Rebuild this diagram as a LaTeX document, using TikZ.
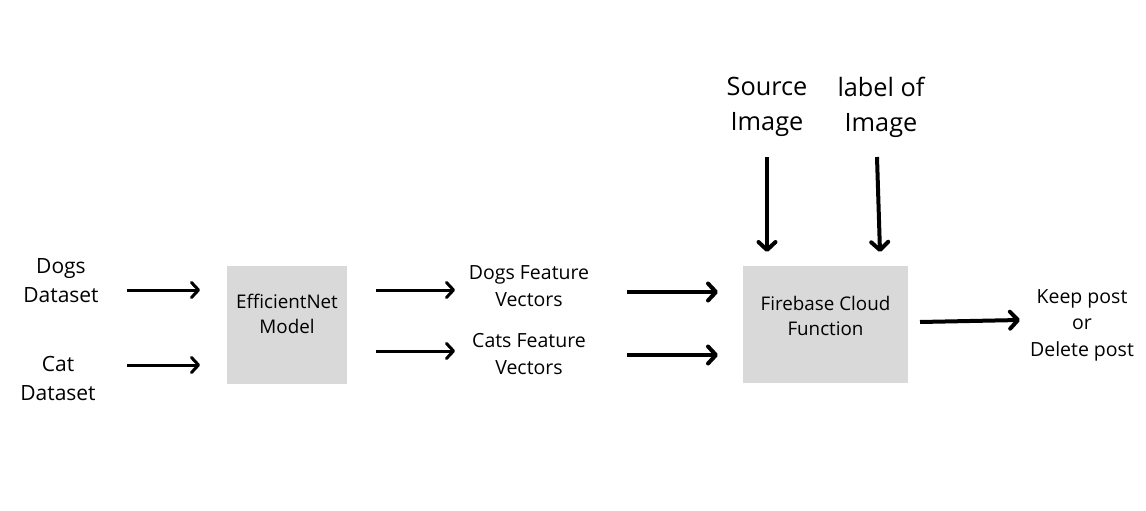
\documentclass[tikz,border=0pt]{standalone}
\usepackage{fontspec}
\setmainfont{Open Sans}
\usetikzlibrary{arrows.meta}
\definecolor{BoxGray}{HTML}{d9d9d9}

\tikzset{
  txt/.style={align=center,inner sep=0pt,font=\fontsize{19.5}{26.5}\selectfont},
  datatxt/.style={align=center,inner sep=0pt,font=\fontsize{21}{29}\selectfont},
  bigtxt/.style={align=center,inner sep=0pt,font=\fontsize{25.3}{35}\selectfont},
  box/.style={fill=BoxGray,draw=none,inner sep=0pt},
  boxtxt/.style={align=center,inner sep=0pt,font=\fontsize{18.8}{25}\selectfont},
  arr/.style={line width=3pt,-{Straight Barb[length=7pt,width=15pt,round]}},
  fatarr/.style={line width=4pt,-{Straight Barb[length=8pt,width=17pt,round]}}
}

\begin{document}
\begin{tikzpicture}[x=1pt,y=-1pt]
    \useasboundingbox[fill=white] (0,0) rectangle (1146,511);

    % inputs and model
    \node[datatxt] (dogs) at (61,281) {Dogs\\Dataset};
    \node[datatxt] (cat) at (58,378) {Cat\\Dataset};
    \node[box,minimum width=120pt,minimum height=118pt,
      label={[boxtxt,yshift=11pt]center:EfficientNet\\Model}] (effnet) at (287,325) {};

    % feature vectors
    \node[txt] (dogsvec) at (529,286) {Dogs Feature\\Vectors};
    \node[txt] (catsvec) at (529,354) {Cats Feature\\Vectors};

    % cloud function
    \node[bigtxt] (source) at (767,107) {Source\\Image};
    \node[bigtxt] (labelimg) at (881,107) {label of\\Image};
    \node[box,minimum width=165pt,minimum height=117pt,
      label={[boxtxt,yshift=8.5pt]center:Firebase Cloud\\Function}] (fire) at (825.5,324.5) {};
    \node[txt] (decision) at (1082,325) {Keep post\\or\\Delete post};

    \draw[arr] ([shift={(66,9)}]dogs.center) -- ([shift={(-87,-35)}]effnet.center);
    \draw[arr] ([shift={(69,-13)}]cat.center) -- ([shift={(-87,40)}]effnet.center);
    \draw[arr] ([shift={(89,-35)}]effnet.center) -- ([shift={(-74,4)}]dogsvec.center);
    \draw[arr] ([shift={(89,26)}]effnet.center) -- ([shift={(-74,-3)}]catsvec.center);
    \draw[fatarr] ([shift={(98,6)}]dogsvec.center) -- ([shift={(-107.5,-32.5)}]fire.center);
    \draw[fatarr] ([shift={(98,1)}]catsvec.center) -- ([shift={(-107.5,30.5)}]fire.center);
    \draw[fatarr] ([shift={(0,50)}]source.center) -- ([shift={(-58.5,-72.5)}]fire.center);
    \draw[fatarr] ([shift={(-4,50)}]labelimg.center) -- ([shift={(54.5,-72.5)}]fire.center);
    \draw[fatarr] ([shift={(94.5,-2.5)}]fire.center) -- ([shift={(-62,-5)}]decision.center);
\end{tikzpicture}
\end{document}
